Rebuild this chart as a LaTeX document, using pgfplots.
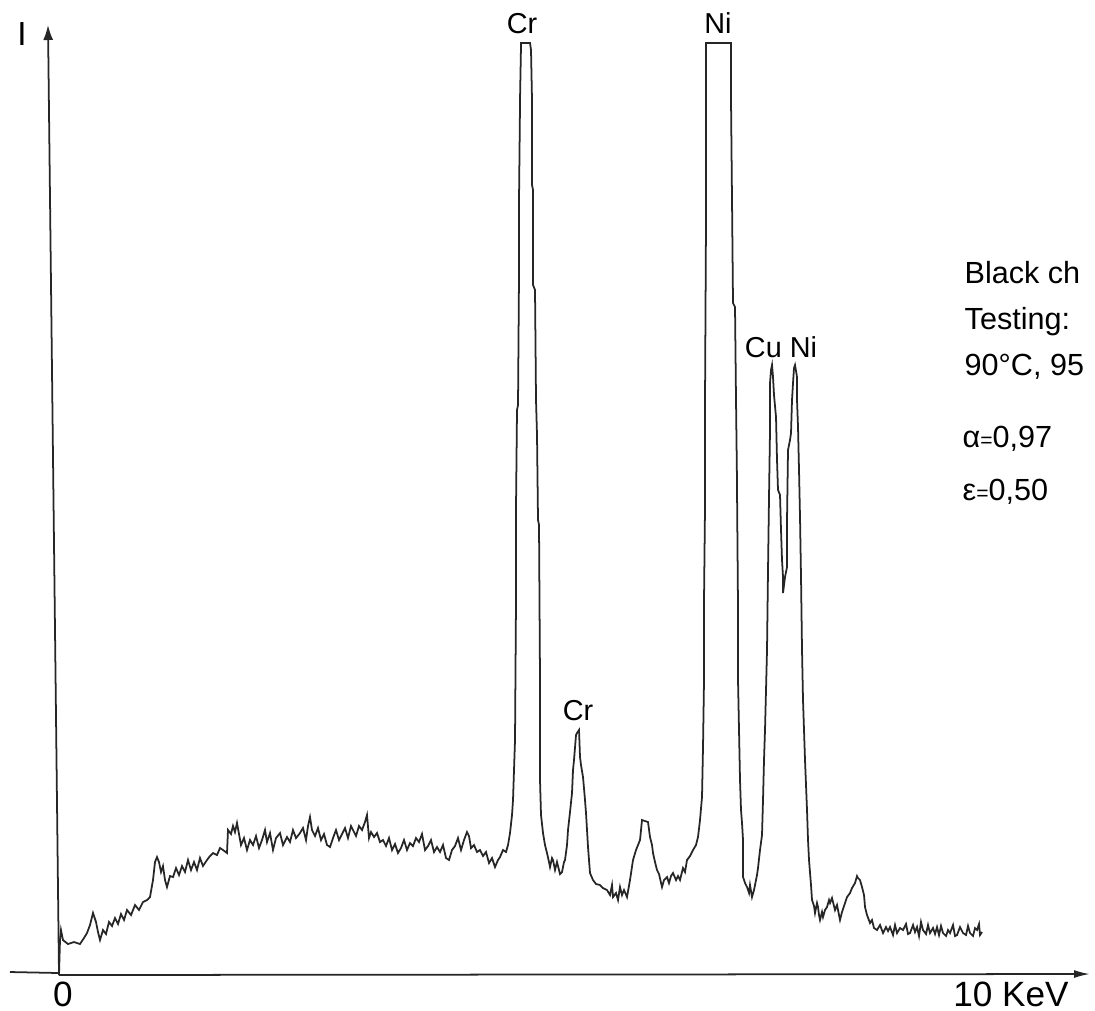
\documentclass[border=0pt]{standalone}
\usepackage{pgfplots}
\pgfplotsset{compat=1.18}
\usepackage{fontspec}
\setmainfont{Liberation Sans}
\usetikzlibrary{arrows.meta}

% spectrum traced in pixel units of the scan (x right, y down)
\pgfplotstableread{
x y
59 975
60 940
61 930
63 940
68 944
74 942
80 944
84 938
87 933
90 925
93 913
96 922
98 932
100 940
103 930
106 934
109 922
112 926
115 918
118 924
121 914
124 920
127 910
131 915
135 905
139 910
143 902
147 900
150 897
153 880
155 862
157 857
159 862
161 872
163 866
165 880
167 887
170 876
173 877
176 868
179 875
182 866
185 872
188 860
191 870
194 862
197 870
200 858
203 866
207 860
210 856
213 853
217 855
220 848
223 850
227 853
228 830
231 834
233 826
235 832
237 823
239 834
241 845
244 838
247 850
250 840
253 845
256 836
259 848
262 840
265 830
267 842
270 833
273 850
276 838
280 833
283 845
287 837
290 842
293 830
296 838
300 833
303 828
306 840
308 826
310 817
312 830
315 836
318 828
321 840
324 834
327 845
330 847
333 838
336 830
339 840
342 834
345 828
348 838
351 826
353 830
356 836
359 826
362 830
365 822
367 815
369 838
371 832
374 837
377 833
380 842
383 840
386 846
389 838
392 850
395 844
398 853
401 848
404 840
407 850
410 843
413 846
416 838
419 842
422 834
425 850
428 846
431 840
434 852
437 847
440 852
443 845
446 858
449 860
452 850
455 846
458 838
461 850
464 840
467 832
469 836
471 848
474 845
477 852
480 850
483 856
486 852
489 863
492 858
495 867
498 860
500 857
503 850
506 852
508 845
510 833
512 815
513 800
514 770
515 740
516 600
516 507
517 410
518 405
519 275
519 200
520 105
520 100
521 46
521 43
530 43
531 50
532 100
532 185
533 190
533 285
535 290
536 400
537 435
538 520
539 525
540 680
540 780
541 815
543 833
545 845
547 853
549 862
550 867
552 858
553 860
555 870
557 862
558 866
560 874
562 872
564 862
565 860
567 845
568 830
570 812
572 793
573 770
574 760
576 735
577 733
579 730
580 757
581 765
583 777
585 800
586 813
587 830
588 847
589 860
590 873
593 880
596 884
600 885
603 888
607 890
610 895
612 885
613 897
616 893
618 900
620 887
622 895
624 890
627 897
630 880
633 860
636 850
640 840
642 820
648 822
650 837
652 845
653 853
655 862
657 870
659 874
662 887
664 880
667 877
669 883
671 876
673 873
676 880
678 876
680 880
683 868
685 872
687 860
690 856
693 850
696 845
698 837
700 820
702 797
703 747
704 680
704 600
705 507
705 400
706 220
706 43
731 43
731 100
732 200
733 303
735 307
736 400
737 483
737 490
738 607
738 680
740 780
741 810
742 823
743 840
743 877
745 883
747 887
749 893
750 885
752 897
754 890
755 885
757 875
758 868
760 850
762 835
763 800
764 760
765 730
766 690
767 650
768 570
769 497
770 430
770 383
771 370
772 365
773 377
774 395
776 417
777 460
778 490
780 495
781 530
782 560
783 577
783 593
785 577
787 567
787 520
788 450
790 440
791 433
792 400
793 383
794 368
795 365
797 377
797 400
798 427
799 470
800 517
801 577
802 650
803 700
805 760
807 810
808 840
809 860
811 885
812 900
814 906
815 913
817 903
818 907
819 915
820 920
822 912
823 917
825 910
827 907
829 900
830 903
832 898
835 910
837 905
840 920
842 912
845 903
847 897
850 893
852 888
855 883
857 876
858 878
860 880
862 887
864 895
865 907
867 915
870 923
872 920
874 928
877 930
880 925
883 933
886 927
888 931
890 927
893 935
895 925
897 933
900 928
903 930
906 924
908 934
910 933
913 925
915 932
917 927
919 936
921 922
923 930
926 934
928 925
930 933
933 928
935 934
937 927
939 935
941 926
943 933
946 936
948 930
950 933
953 925
955 936
957 935
960 927
963 933
966 935
968 926
970 933
973 936
975 928
977 930
979 924
980 935
982 932
}\spectrum

\begin{document}
\begin{tikzpicture}
\begin{axis}[
    name=ax,
    scale only axis,
    width=10.95cm,
    height=10.1cm,
    xmin=0, xmax=1095,
    ymin=0, ymax=1010,
    y dir=reverse,
    axis lines=none,
    clip=false
]
% axes as on the recorder sheet
\draw[line width=0.5pt, black!85] (10,972) -- (59,973);
\draw[line width=0.5pt, black!85, -{Latex[length=1.6mm,width=0.8mm]}] (59,975) -- (1090,974);
\draw[line width=0.5pt, black!85, -{Latex[length=1.5mm,width=1.0mm]}] (59,975) -- (48,25);

\addplot[black!85, line width=0.5pt, mark=none] table[x=x, y=y] {\spectrum};

\node[anchor=base, font=\fontsize{9.5}{11}\selectfont] at (22,45) {I};
\node[anchor=base, font=\fontsize{10}{12}\selectfont] at (63,1006) {0};
\node[anchor=base, font=\fontsize{10}{12}\selectfont] at (1011,1006) {10 KeV};

\node[anchor=base, font=\fontsize{8.2}{10}\selectfont] at (522,33) {Cr};
\node[anchor=base, font=\fontsize{8.2}{10}\selectfont] at (718,33) {Ni};
\node[anchor=base, font=\fontsize{8.2}{10}\selectfont] at (578,720) {Cr};
\node[anchor=base, font=\fontsize{8.2}{10}\selectfont] at (781,357) {Cu Ni};

\node[anchor=base west, inner sep=0pt, font=\fontsize{8.7}{10}\selectfont] at (964,283) {Black ch};
\node[anchor=base west, inner sep=0pt, font=\fontsize{8.7}{10}\selectfont] at (964,329) {Testing:};
\node[anchor=base west, inner sep=0pt, font=\fontsize{8.7}{10}\selectfont] at (964,375) {90°C, 95};
\node[anchor=base west, inner sep=0pt, font=\fontsize{8.7}{10}\selectfont] at (962,447) {α{\fontsize{6}{6}\selectfont =}0,97};
\node[anchor=base west, inner sep=0pt, font=\fontsize{8.7}{10}\selectfont] at (962,500) {ε{\fontsize{6}{6}\selectfont =}0,50};
\end{axis}
\pgfresetboundingbox
\path (ax.south west) rectangle (ax.north east);
\end{tikzpicture}
\end{document}
